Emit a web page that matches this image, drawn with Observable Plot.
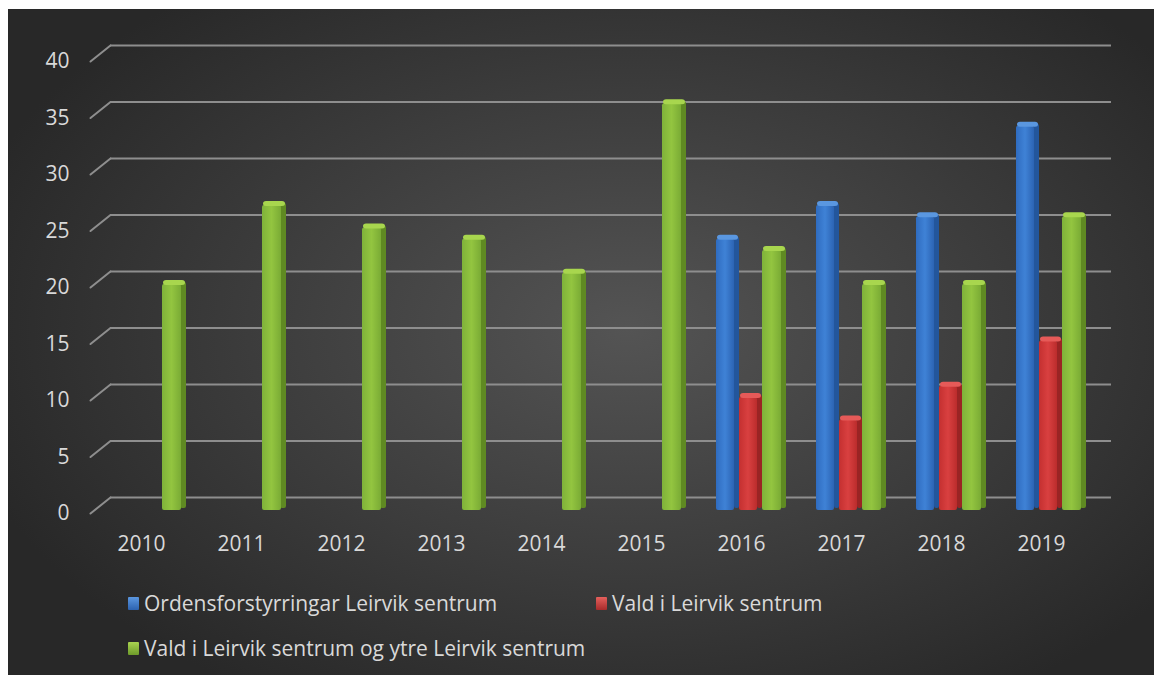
<!DOCTYPE html>
<html>
<head>
<meta charset="utf-8">
<script src="https://cdn.jsdelivr.net/npm/d3@7"></script>
<script src="https://cdn.jsdelivr.net/npm/@observablehq/plot@0.6"></script>
<style>
  html, body { margin: 0; padding: 0; background: #ffffff; }
  #wrap {
    position: absolute; left: 8px; top: 9px; width: 1146px; height: 666px;
    background: radial-gradient(ellipse 60% 65% at 54% 48%, #545454 0%, #3c3c3c 55%, #282828 100%);
    overflow: hidden;
    font-family: "Open Sans", sans-serif;
  }
  #chart { position: absolute; left: 0; top: 0; }
  .legend-item { position: absolute; display: flex; align-items: center; color: #d9d9d9; font-size: 21px; white-space: nowrap; }
  .legend-item .sw { width: 11px; height: 13px; margin-right: 5px; border-radius: 1px; }
</style>
</head>
<body>
<div id="wrap">
  <div id="chart"></div>
  <div id="legend"></div>
</div>
<script>
// ---- data ----
const years = ["2010", "2011", "2012", "2013", "2014", "2015", "2016", "2017", "2018", "2019"];
const seriesNames = [
  "Ordensforstyrringar Leirvik sentrum",
  "Vald i Leirvik sentrum",
  "Vald i Leirvik sentrum og ytre Leirvik sentrum"
];
const ordensforstyrringar = [null, null, null, null, null, null, 24, 27, 26, 34];
const valdSentrum = [null, null, null, null, null, null, 10, 8, 11, 15];
const valdYtre = [20, 27, 25, 24, 21, 36, 23, 20, 20, 26];
const yTicks = [0, 5, 10, 15, 20, 25, 30, 35, 40];

// ---- styling ----
const colors = {
  front: ["url(#gBlue)", "url(#gRed)", "url(#gGreen)"],
  side: ["#23569c", "#9a2424", "#5f8a22"],
  cap: ["#5a97e0", "#e65a58", "#a8d64e"],
  swatch: ["linear-gradient(#5b97e0,#2c62b0)", "linear-gradient(#e5605c,#a82b2b)", "linear-gradient(#a9d450,#6d9a2a)"]
};
// slot insets within each 100px year band (left, right)
const slots = [[25, 52], [48, 29], [71, 5]];

const seriesValues = [ordensforstyrringar, valdSentrum, valdYtre];
const table = [];
seriesValues.forEach((vals, s) => {
  vals.forEach((v, i) => { if (v != null) table.push({year: years[i], series: s, value: v}); });
});

const W = 1146, H = 560;
const barDy = -3;

const marks = [
  Plot.ruleY(yTicks, {y: d => d, dy: -16, insetLeft: 20, stroke: "#8e8e8e", strokeWidth: 2}),
  Plot.vector(yTicks, {
    y: d => d, frameAnchor: "left", length: 25.6, rotate: 51.3, anchor: "start",
    stroke: "#8e8e8e", strokeWidth: 2,
    shape: {draw(context, l) { context.moveTo(0, 0); context.lineTo(0, -l); }}
  })
];
[0, 1, 2].forEach(s => {
  const data = table.filter(d => d.series === s);
  const [il, ir] = slots[s];
  // side face
  marks.push(Plot.barY(data, {x: "year", y: "value", dy: barDy - 2, insetLeft: il + 18, insetRight: ir, fill: colors.side[s], rx: 2}));
  // front face
  marks.push(Plot.barY(data, {x: "year", y: "value", dy: barDy, insetLeft: il, insetRight: ir + 5, fill: colors.front[s], rx: 2}));
  // top cap
  marks.push(Plot.barY(data, {x: "year", y1: "value", y2: "value", dy: barDy, insetLeft: il + 1, insetRight: ir + 1, insetTop: -4, insetBottom: -1, fill: colors.cap[s], rx: 3}));
});
marks.push(Plot.axisY({ticks: yTicks, tickSize: 0, tickPadding: 21, fontSize: 21, fill: "#d9d9d9"}));
marks.push(Plot.axisX({tickSize: 0, tickPadding: 23, fontSize: 21, fill: "#d9d9d9"}));

const chart = Plot.plot({
  width: W,
  height: H,
  marginLeft: 82,
  marginRight: 43,
  marginTop: 52,
  marginBottom: 56,
  style: {background: "transparent", fontFamily: "Open Sans", color: "#d9d9d9", overflow: "visible"},
  x: {type: "band", domain: years, range: [83, 1083], padding: 0, label: null},
  y: {domain: [0, 40], label: null},
  marks
});

const defs = `<defs>
  <linearGradient id="gBlue" x1="0" x2="1" y1="0" y2="0"><stop offset="0" stop-color="#2f6cc0"/><stop offset="0.5" stop-color="#3f82d6"/><stop offset="1" stop-color="#2c64b4"/></linearGradient>
  <linearGradient id="gRed" x1="0" x2="1" y1="0" y2="0"><stop offset="0" stop-color="#c43030"/><stop offset="0.5" stop-color="#d94040"/><stop offset="1" stop-color="#bb2c2c"/></linearGradient>
  <linearGradient id="gGreen" x1="0" x2="1" y1="0" y2="0"><stop offset="0" stop-color="#7fb23a"/><stop offset="0.5" stop-color="#93c540"/><stop offset="1" stop-color="#7aab35"/></linearGradient>
</defs>`;
chart.insertAdjacentHTML("afterbegin", defs);
document.getElementById("chart").appendChild(chart);

// ---- legend ----
const legendPos = [[120, 594], [588, 594], [120, 639]];
const legend = document.getElementById("legend");
seriesNames.forEach((name, s) => {
  const item = document.createElement("div");
  item.className = "legend-item";
  item.style.left = legendPos[s][0] + "px";
  item.style.top = (legendPos[s][1] - 14) + "px";
  item.style.height = "28px";
  const sw = document.createElement("div");
  sw.className = "sw";
  sw.style.background = colors.swatch[s];
  const tx = document.createElement("span");
  tx.textContent = name;
  item.appendChild(sw);
  item.appendChild(tx);
  legend.appendChild(item);
});
</script>
</body>
</html>
